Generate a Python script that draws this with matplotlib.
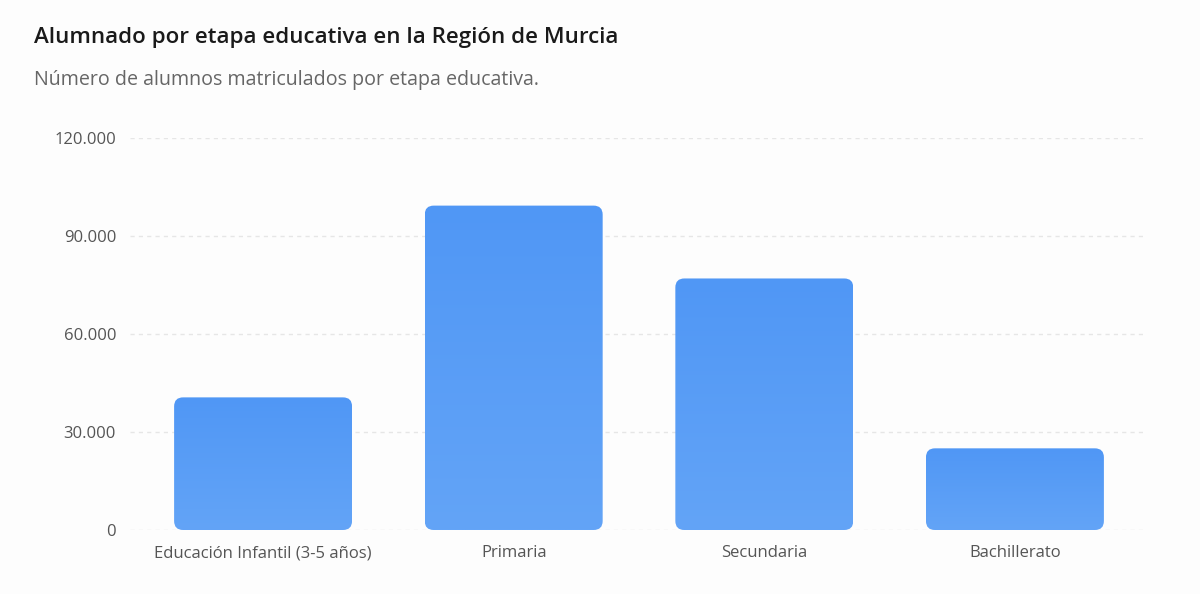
import matplotlib
matplotlib.use("Agg")
import matplotlib.pyplot as plt
import numpy as np
from matplotlib.patches import FancyBboxPatch
from matplotlib.colors import LinearSegmentedColormap
from matplotlib.ticker import FuncFormatter

# datos
etapas = ["Educación Infantil (3-5 años)", "Primaria", "Secundaria", "Bachillerato"]
alumnos = [40600, 99300, 77000, 25000]
yticks = [0, 30000, 60000, 90000, 120000]

plt.rcParams['font.family'] = ['Open Sans', 'DejaVu Sans']

fig = plt.figure(figsize=(12, 5.94), dpi=100, facecolor="#fdfdfd")
ax = fig.add_axes([130 / 1200, 1 - 530 / 594, 1015 / 1200, 392 / 594])
ax.set_facecolor("#fdfdfd")
ax.set_xlim(-0.531, 3.519)
ax.set_ylim(0, 120000)

# grid
for t in yticks:
    ax.axhline(t, color="#e6e6e6", lw=1, ls=(0, (3, 3)), zorder=0)

# rounding: 9px in data units
px_x = ax.transData.transform((1, 0))[0] - ax.transData.transform((0, 0))[0]
px_y = ax.transData.transform((0, 1))[1] - ax.transData.transform((0, 0))[1]
r = 9 / px_x
aspect = px_x / px_y

cmap = LinearSegmentedColormap.from_list("azul", ["#63a4f7", "#5097f5"])
grad = np.linspace(0, 1, 256).reshape(-1, 1)

width = 0.71
for i, v in enumerate(alumnos):
    patch = FancyBboxPatch((i - width / 2, 0), width, v,
                           boxstyle=f"round,pad=0,rounding_size={r}",
                           mutation_aspect=aspect, fc="none", ec="none")
    ax.add_patch(patch)
    im = ax.imshow(grad, cmap=cmap, aspect="auto", origin="lower",
                   extent=(i - width / 2, i + width / 2, 0, v), zorder=2)
    im.set_clip_path(patch)

ax.set_xlim(-0.531, 3.519)
ax.set_ylim(0, 120000)

ax.set_xticks(range(len(etapas)))
ax.set_xticklabels(etapas, fontsize=12, color="#555555")
ax.set_yticks(yticks)
ax.yaxis.set_major_formatter(FuncFormatter(lambda v, p: f"{int(v):,}".replace(",", ".")))
ax.tick_params(axis="y", labelsize=12, labelcolor="#555555", length=0, pad=10)
ax.tick_params(axis="x", length=0, pad=11)
for s in ax.spines.values():
    s.set_visible(False)

fig.text(34 / 1200, 1 - 37 / 594, "Alumnado por etapa educativa en la Región de Murcia",
         fontsize=16.1, fontweight="semibold", color="#1a1a1a", va="center")
fig.text(34 / 1200, 1 - 80 / 594, "Número de alumnos matriculados por etapa educativa.",
         fontsize=14.1, color="#666666", va="center")

fig.savefig("out.png", dpi=100, facecolor=fig.get_facecolor())
